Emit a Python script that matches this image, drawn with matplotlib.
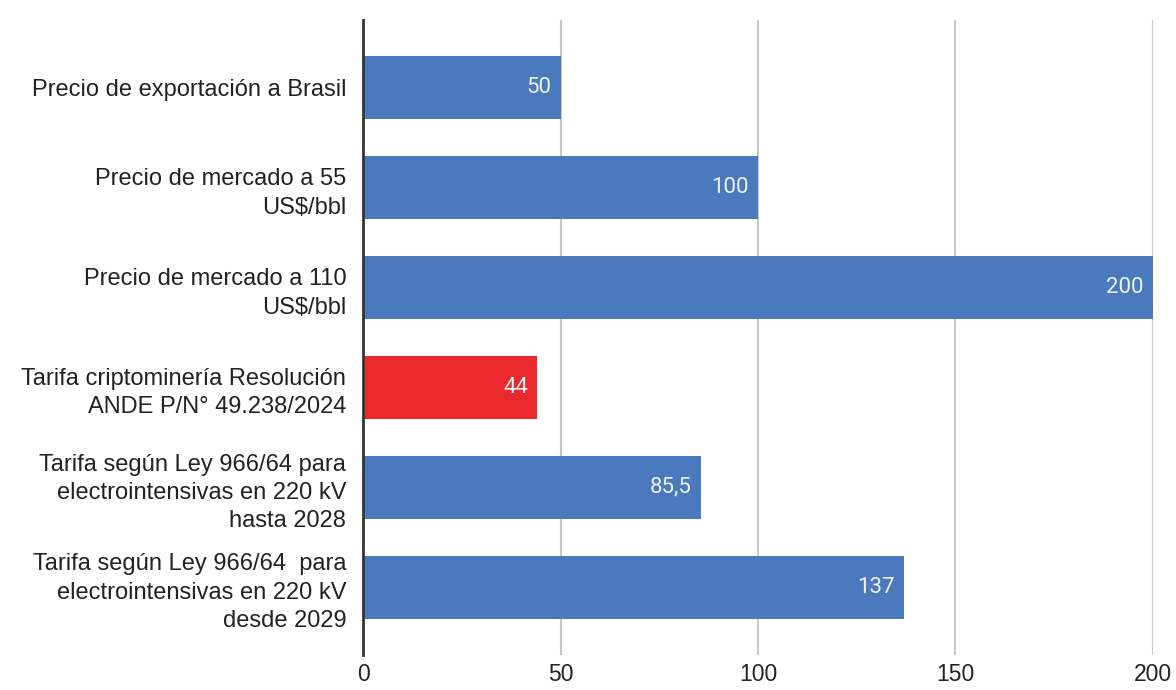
import matplotlib.pyplot as plt
import numpy as np

plt.rcParams['font.family'] = ['Liberation Sans', 'DejaVu Sans']

categorias = [
    'Precio de exportación a Brasil',
    'Precio de mercado a 55\nUS$/bbl',
    'Precio de mercado a 110\nUS$/bbl',
    'Tarifa criptominería Resolución\nANDE P/N° 49.238/2024',
    'Tarifa según Ley 966/64 para\nelectrointensivas en 220 kV\nhasta 2028',
    'Tarifa según Ley 966/64  para\nelectrointensivas en 220 kV\ndesde 2029',
]
valores = [50, 100, 200, 44, 85.5, 137]
etiquetas = ['50', '100', '200', '44', '85,5', '137']
colores = ['#4a79be', '#4a79be', '#4a79be', '#e9292c', '#4a79be', '#4a79be']
ticks_x = [0, 50, 100, 150, 200]

fig = plt.figure(figsize=(11.76, 6.9), dpi=100)
ax = fig.add_axes([0.3087, 0.0507, 0.6717, 0.9203])

y = np.arange(len(categorias))
ax.barh(y, valores, height=0.63, color=colores, zorder=3)

for yi, v, lab in zip(y, valores, etiquetas):
    ax.text(v - 2.3, yi, lab, ha='right', va='center', color='#eef2f9',
            fontsize=16, family=['Roboto', 'DejaVu Sans'], zorder=4)

ax.set_xlim(0, 200)
ax.set_ylim(len(categorias) - 0.32, -0.68)
ax.set_xticks(ticks_x)
ax.set_xticklabels([str(t) for t in ticks_x], fontsize=16.5, color='#222222')
ax.set_yticks(y)
ax.set_yticklabels(categorias, fontsize=17, color='#222222', linespacing=1.38)
ax.tick_params(axis='both', length=0)
ax.tick_params(axis='y', pad=12)
ax.tick_params(axis='x', pad=6)

ax.grid(axis='x', color='#c8c8c8', linewidth=1.5, zorder=0)
ax.grid(axis='y', visible=False)
for s in ['top', 'right', 'bottom']:
    ax.spines[s].set_visible(False)
ax.spines['left'].set_color('#333333')
ax.spines['left'].set_linewidth(2)
ax.spines['left'].set_zorder(5)

fig.savefig('out.png', dpi=100)
